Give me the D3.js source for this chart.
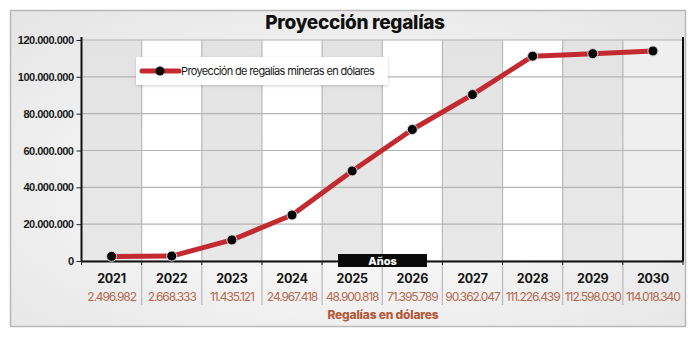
<!DOCTYPE html>
<html><head><meta charset="utf-8">
<script src="https://cdn.jsdelivr.net/npm/d3@7"></script>
<style>
html,body{margin:0;padding:0;background:#fff;}
svg{display:block;font-family:Inter,Roboto,"Liberation Sans",sans-serif;}
</style></head>
<body><svg id="c" width="696" height="339"></svg>
<script>
const years = ["2021","2022","2023","2024","2025","2026","2027","2028","2029","2030"];
const values = [2496982, 2668333, 11435121, 24967418, 48900818, 71395789, 90362047, 111226439, 112598030, 114018340];
const yTicks = [0, 20000000, 40000000, 60000000, 80000000, 100000000, 120000000];
const title = "Proyección regalías";
const legendLabel = "Proyección de regalías mineras en dólares";
const xAxisTitle = "Años";
const footerTitle = "Regalías en dólares";

(function(){
const loc = d3.formatLocale({decimal:",", thousands:".", grouping:[3], currency:["",""]});
const fmt = loc.format(",d");

const svg = d3.select("#c");
const defs = svg.append("defs");
const bg = defs.append("radialGradient").attr("id","bg").attr("cx","0.5").attr("cy","0.55").attr("r","0.7");
bg.append("stop").attr("offset","0").attr("stop-color","#ffffff");
bg.append("stop").attr("offset","1").attr("stop-color","#e6e6e6");
const colg = defs.append("linearGradient").attr("id","colg").attr("x1","0").attr("y1","0").attr("x2","0").attr("y2","1");
colg.append("stop").attr("offset","0").attr("stop-color","#e3e3e3");
colg.append("stop").attr("offset","1").attr("stop-color","#e8e8e8");
const sh = defs.append("filter").attr("id","sh").attr("x","-10%").attr("y","-30%").attr("width","120%").attr("height","160%");
sh.append("feDropShadow").attr("dx",0).attr("dy",1).attr("stdDeviation",1.5).attr("flood-color","#000").attr("flood-opacity",0.18);

svg.append("rect").attr("x",10.5).attr("y",10.5).attr("width",675).attr("height",316)
  .attr("fill","url(#bg)").attr("stroke","#b8b8b8").attr("stroke-width",1.5);

const pL = 81.5, pR = 683, pT = 40, pB = 261;
const x = d3.scaleBand().domain(years).range([pL,pR]).padding(0);
const y = d3.scaleLinear().domain([0,120000000]).range([pB,pT]);

svg.append("g").selectAll("rect").data(years).join("rect")
  .attr("x", d=>x(d)).attr("y", pT).attr("width", x.bandwidth()).attr("height", pB-pT)
  .attr("fill", (d,i)=> i===9 ? "#efefef" : (i%2===0 ? "url(#colg)" : "#ffffff"));

svg.append("g").selectAll("line").data(yTicks).join("line")
  .attr("x1",pL).attr("x2",pR).attr("y1",d=>y(d)).attr("y2",d=>y(d))
  .attr("stroke","#b4b4b4").attr("stroke-width",1.2);

const bounds = years.map(d=>x(d)).concat([pR]);
svg.append("g").selectAll("line").data(bounds.slice(1,-1)).join("line")
  .attr("x1",d=>d).attr("x2",d=>d).attr("y1",pT).attr("y2",305)
  .attr("stroke","#b8b8b8").attr("stroke-width",1.2);

const yAxis = d3.axisLeft(y).tickValues(yTicks).tickFormat(fmt).tickSize(5).tickPadding(3);
const ga = svg.append("g").attr("transform",`translate(${pL},0)`).call(yAxis);
ga.select(".domain").attr("stroke","#111").attr("stroke-width",2).attr("d",`M0,${pT-3}V${pB}`);
ga.selectAll(".tick line").attr("stroke","#222").attr("stroke-width",1);
ga.selectAll(".tick text").attr("fill","#1a1a1a").style("font-size","11px").style("font-weight","600")
  .style("letter-spacing","-0.5px");

svg.append("line").attr("x1",pR).attr("x2",pR).attr("y1",pT-3).attr("y2",pB)
  .attr("stroke","#111").attr("stroke-width",2);

const xAxis = d3.axisBottom(x).tickSize(0).tickFormat("");
const gx = svg.append("g").attr("transform",`translate(0,${pB})`).call(xAxis);
gx.select(".domain").attr("stroke","#111").attr("stroke-width",2);
svg.append("g").selectAll("line").data(bounds).join("line")
  .attr("x1",d=>d).attr("x2",d=>d).attr("y1",pB).attr("y2",pB+4)
  .attr("stroke","#222").attr("stroke-width",1);

svg.append("g").selectAll("text").data(years).join("text")
  .attr("x",d=>x(d)+x.bandwidth()/2).attr("y",283).attr("text-anchor","middle")
  .attr("fill","#151515").style("font-size","12.5px").style("font-weight","700").style("letter-spacing","-0.2px")
  .text(d=>d);
svg.append("g").selectAll("text").data(values).join("text")
  .attr("x",(d,i)=>x(years[i])+x.bandwidth()/2).attr("y",300.5).attr("text-anchor","middle")
  .attr("fill","#b46a50").style("font-size","12px").style("letter-spacing","-1.1px")
  .text(d=>fmt(d));

const aw = 89, ax = 338;
svg.append("rect").attr("x",ax).attr("y",254).attr("width",aw).attr("height",13).attr("fill","#0a0a0a");
svg.append("text").attr("x",ax+aw/2).attr("y",264.5).attr("text-anchor","middle").attr("fill","#fff")
  .style("font-size","11px").style("font-weight","800").text(xAxisTitle);

svg.append("text").attr("x",383).attr("y",319).attr("text-anchor","middle").attr("fill","#b5593a")
  .style("font-size","12px").style("font-weight","800").style("letter-spacing","-0.2px").text(footerTitle);

const line = d3.line().x((d,i)=>x(years[i])+x.bandwidth()/2).y(d=>y(d));
svg.append("path").datum(values).attr("d",line).attr("fill","none")
  .attr("stroke","#c22a30").attr("stroke-width",5).attr("stroke-linejoin","round");
svg.append("g").selectAll("circle").data(values).join("circle")
  .attr("cx",(d,i)=>x(years[i])+x.bandwidth()/2).attr("cy",d=>y(d)).attr("r",5)
  .attr("fill","#050505").attr("stroke","#d8d8d8").attr("stroke-width",1);

const lg = svg.append("g");
lg.append("rect").attr("x",136).attr("y",57).attr("width",252).attr("height",28).attr("fill","#fff").attr("filter","url(#sh)");
lg.append("line").attr("x1",142).attr("x2",179).attr("y1",71).attr("y2",71).attr("stroke","#c22a30")
  .attr("stroke-width",5).attr("stroke-linecap","round");
lg.append("circle").attr("cx",160).attr("cy",71).attr("r",4.5).attr("fill","#050505");
lg.append("text").attr("x",181).attr("y",75).attr("fill","#1a1a1a").style("font-size","11px")
  .style("letter-spacing","-0.65px").text(legendLabel);

svg.append("text").attr("x",355).attr("y",29).attr("text-anchor","middle").attr("fill","#111")
  .style("font-size","19px").style("font-weight","800").style("letter-spacing","-0.3px").text(title);
})();
</script></body></html>
